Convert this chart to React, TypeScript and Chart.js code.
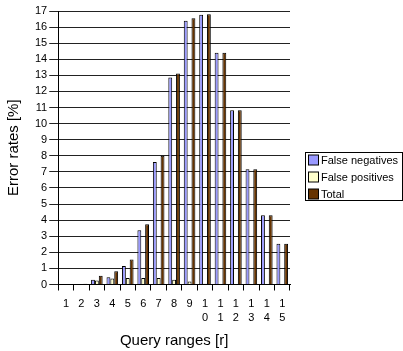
import React, { useEffect, useRef } from 'react';
import { Chart, registerables } from 'chart.js';

Chart.register(...registerables);

const categories: (string | string[])[] = [
  '1', '2', '3', '4', '5', '6', '7', '8', '9',
  ['1', '0'], ['1', '1'], ['1', '2'], ['1', '3'], ['1', '4'], ['1', '5'],
];
const falseNegatives = [0, 0.03, 0.3, 0.45, 1.15, 3.37, 7.62, 12.86, 16.4, 16.77, 14.4, 10.83, 7.16, 4.31, 2.53];
const falsePositives = [0, 0.02, 0.25, 0.37, 0.4, 0.4, 0.4, 0.3, 0.18, 0.04, 0.01, 0, 0, 0, 0];
const total = [0, 0.05, 0.55, 0.82, 1.55, 3.75, 8.0, 13.12, 16.55, 16.8, 14.41, 10.83, 7.16, 4.31, 2.53];
const seriesNames = ['False negatives', 'False positives', 'Total'];
const seriesColors = ['#9999ff', '#ffffcc', '#663300'];
const yTitle = 'Error rates [%]';
const xTitle = 'Query ranges [r]';

const FONT = "'Liberation Sans', Arial, sans-serif";

const boxedLegend = {
  id: 'boxedLegend',
  afterDraw(chart: any) {
    const ctx = chart.ctx;
    const area = chart.chartArea;
    const ds = chart.data.datasets;
    const itemH = 17;
    const boxW = 97;
    const boxH = ds.length * itemH - 3;
    const left = Math.round(area.right) + 15;
    const top = Math.round(chart.height / 2 - boxH / 2) + 0.5;
    ctx.save();
    ctx.strokeStyle = '#000';
    ctx.lineWidth = 1;
    ctx.strokeRect(left + 0.5, top, boxW, boxH);
    ctx.font = `11px ${FONT}`;
    ctx.textBaseline = 'middle';
    ds.forEach((d: any, i: number) => {
      const cy = top + 7.5 + i * itemH;
      ctx.fillStyle = d.backgroundColor;
      ctx.fillRect(left + 3.5, cy - 5, 10, 10);
      ctx.strokeStyle = '#000';
      ctx.strokeRect(left + 3.5, cy - 5, 10, 10);
      ctx.fillStyle = '#000';
      ctx.fillText(d.label, left + 16, cy + 0.5);
    });
    ctx.restore();
  },
};

export default function App() {
  const ref = useRef<HTMLCanvasElement>(null);
  useEffect(() => {
    document.body.style.margin = '0';
    const series = [falseNegatives, falsePositives, total];
    const chart = new Chart(ref.current!, {
      type: 'bar',
      data: {
        labels: categories,
        datasets: series.map((vals, i) => ({
          label: seriesNames[i],
          data: vals,
          backgroundColor: seriesColors[i],
          borderColor: '#000',
          borderWidth: 1,
          categoryPercentage: 0.75,
          barPercentage: 1.0,
        })),
      },
      options: {
        responsive: false,
        animation: false,
        layout: { padding: { top: 11, right: 113, left: 5, bottom: 1 } },
        plugins: { legend: { display: false }, tooltip: { enabled: false } },
        scales: {
          x: {
            grid: { display: true, drawOnChartArea: false, drawTicks: true, tickLength: 6, color: '#000', offset: true },
            border: { display: true, color: '#000', width: 1 },
            ticks: { color: '#000', font: { family: FONT, size: 11, lineHeight: 1.25 }, maxRotation: 0, autoSkip: false, padding: 7 },
            title: { display: true, text: xTitle, color: '#000', font: { family: FONT, size: 15 }, padding: { top: 0, bottom: 0 } },
          },
          y: {
            min: 0,
            max: 17,
            ticks: { stepSize: 1, autoSkip: false, color: '#000', font: { family: FONT, size: 11 }, padding: 2 },
            grid: { color: '#222', tickLength: 9, drawTicks: true },
            border: { display: true, color: '#000', width: 1 },
            title: { display: true, text: yTitle, color: '#000', font: { family: FONT, size: 15 }, padding: { top: 0, bottom: 10 } },
          },
        },
      },
      plugins: [boxedLegend],
    });
    return () => chart.destroy();
  }, []);
  return (
    <div style={{ width: 403, height: 351, background: '#fff' }}>
      <canvas ref={ref} width={403} height={351} />
    </div>
  );
}
